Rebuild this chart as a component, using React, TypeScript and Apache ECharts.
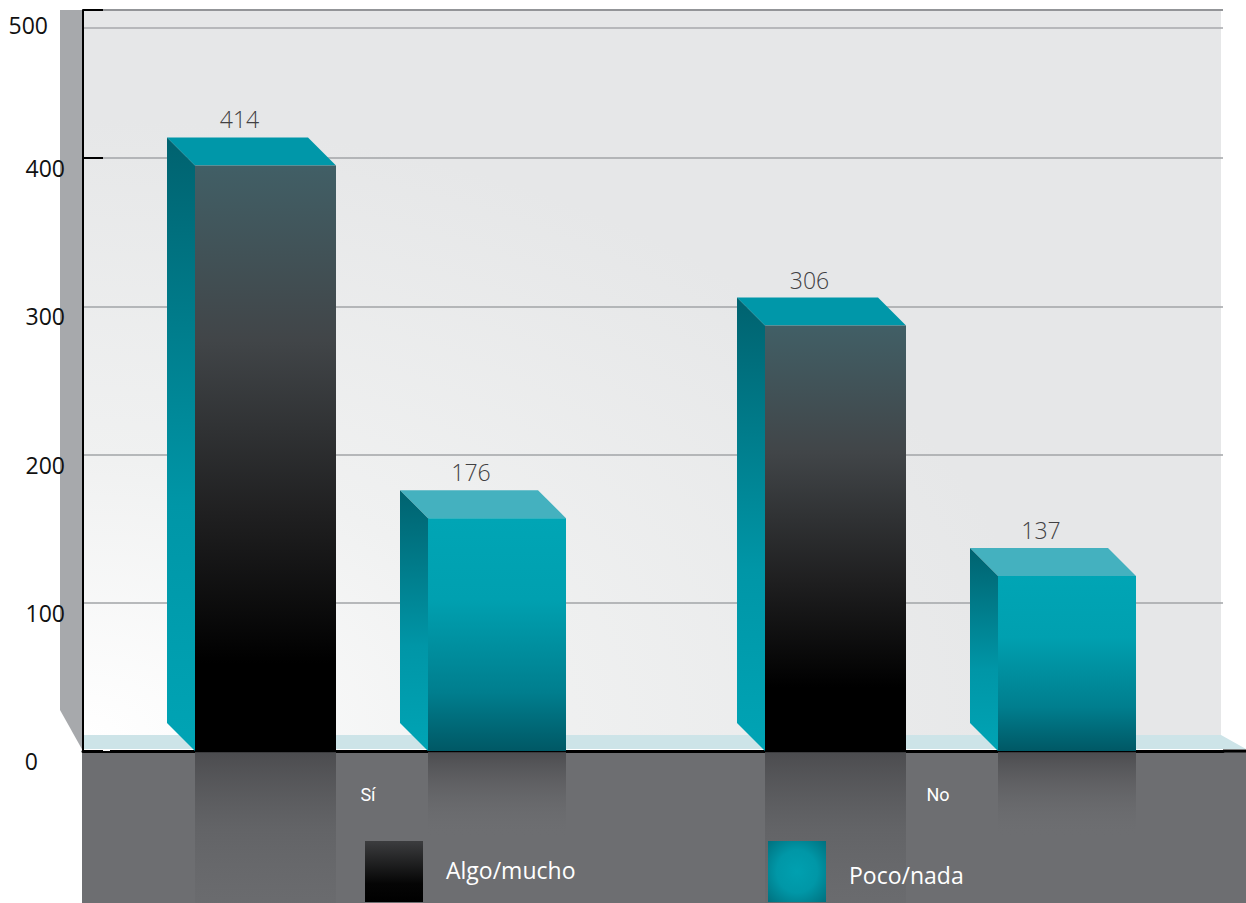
import React, { useEffect, useRef } from "react";
import * as echarts from "echarts";

const categories = ["Sí", "No"];
const algoMucho = [414, 306];
const pocoNada = [176, 137];
const yMax = 500;
const yStep = 100;

const linear = (stops: [number, string][]) => ({
  type: "linear", x: 0, y: 0, x2: 0, y2: 1,
  colorStops: stops.map(([offset, color]) => ({ offset, color })),
});

const DEPTH = 28;

function bar3d(left: number, right: number, topColor: string, sideStops: [number, string][], frontStops: [number, string][], reflectDepth: number, reflectStops: [number, string][]) {
  return (params: any, api: any) => {
    const [cx, yTop] = api.coord([api.value(0), api.value(1)]);
    const [, yBase] = api.coord([api.value(0), 0]);
    const fl = cx + left, fr = cx + right;
    const bl = fl - DEPTH, br = fr - DEPTH;
    const ft = yTop + DEPTH;
    return {
      type: "group",
      children: [
        { type: "rect", shape: { x: fl, y: yBase + 1, width: fr - fl, height: reflectDepth }, style: { fill: linear(reflectStops) } },
        { type: "polygon", shape: { points: [[bl, yTop], [br, yTop], [fr, ft], [fl, ft]] }, style: { fill: topColor } },
        { type: "polygon", shape: { points: [[bl, yTop], [fl, ft], [fl, yBase], [bl, yBase - DEPTH]] }, style: { fill: linear(sideStops) } },
        { type: "rect", shape: { x: fl, y: ft, width: fr - fl, height: yBase - ft }, style: { fill: linear(frontStops) } },
        { type: "text", style: { x: (bl + br) / 2 + 2, y: yTop - 18, text: String(api.value(1)), align: "center", verticalAlign: "middle", fill: "#414042", font: "300 23px 'Open Sans'" } },
      ],
    };
  };
}

export default function App() {
  const ref = useRef<HTMLDivElement>(null);
  useEffect(() => {
    const chart = echarts.init(ref.current!, undefined, { renderer: "svg" });
    const darkFront: [number, string][] = [[0, "#415f66"], [0.3, "#414548"], [0.6, "#1f1f20"], [0.85, "#000000"], [1, "#000000"]];
    const tealFront: [number, string][] = [[0, "#00a5b5"], [0.35, "#00a0b0"], [0.75, "#007e8e"], [1, "#005865"]];
    const side: [number, string][] = [[0, "#00626f"], [0.6, "#0096a7"], [1, "#00a4b5"]];
    const darkReflect: [number, string][] = [[0, "rgba(70,70,73,0.85)"], [0.5, "rgba(88,89,92,0.5)"], [1, "rgba(100,101,104,0.3)"]];
    const tealReflect: [number, string][] = [[0, "rgba(70,70,73,0.85)"], [1, "rgba(109,110,113,0)"]];
    chart.setOption({
      animation: false,
      grid: { left: 83, top: 10, width: 1140, height: 741, containLabel: false },
      legend: [
        {
          left: 360, top: 836, itemWidth: 58, itemHeight: 61,
          data: [{ name: "Algo/mucho", icon: "rect", itemStyle: { color: linear([[0, "#3c3d3f"], [0.7, "#050505"], [1, "#000000"]]) } }],
          formatter: (n: string) => `{t|${n}}`,
          textStyle: { rich: { t: { color: "#ffffff", fontFamily: "Open Sans", fontSize: 23, padding: [0, 0, 4, 18] } } },
        },
        {
          left: 763, top: 836, itemWidth: 58, itemHeight: 61,
          data: [{ name: "Poco/nada", icon: "rect", itemStyle: { color: { type: "radial", x: 0.5, y: 0.5, r: 0.7, colorStops: [{ offset: 0, color: "#00a0b0" }, { offset: 0.5, color: "#0097a7" }, { offset: 1, color: "#00717f" }] } } }],
          formatter: (n: string) => `{t|${n}}`,
          textStyle: { rich: { t: { color: "#ffffff", fontFamily: "Open Sans", fontSize: 23, padding: [6, 0, 0, 18] } } },
        },
      ],
      xAxis: {
        type: "category",
        data: categories,
        axisLine: { lineStyle: { color: "#000000", width: 3 } },
        axisTick: { show: false },
        axisLabel: { color: "#ffffff", margin: 34, fontSize: 18, fontFamily: "Roboto" },
        splitLine: { show: false },
      },
      yAxis: {
        type: "value",
        min: 0, max: yMax, interval: yStep,
        axisLine: { show: true, lineStyle: { color: "#000000", width: 2 } },
        axisTick: { show: false },
        splitLine: { show: true, lineStyle: { color: "#a2a4a7", width: 1.5 } },
        axisLabel: {
          margin: 18,
          formatter: (v: number) => v === 500 ? "{a|500}" : v === 0 ? "{z|0}" : `{n|${v}}`,
          rich: {
            a: { fontFamily: "Open Sans", fontSize: 23, color: "#111", padding: [30, 17, 0, 0] },
            n: { fontFamily: "Open Sans", fontSize: 23, color: "#111", padding: [20, 0, 0, 0] },
            z: { fontFamily: "Open Sans", fontSize: 23, color: "#111", padding: [20, 27, 0, 0] },
          },
        },
      },
      graphic: [
        { type: "polygon", z: -10, shape: { points: [[60, 10], [83, 10], [83, 751], [60, 710]] }, style: { fill: "#a7a9ac" } },
        { type: "rect", z: -10, shape: { x: 83, y: 10, width: 1138, height: 726 }, style: { fill: { type: "radial", x: 0, y: 1, r: 0.85, colorStops: [{ offset: 0, color: "#ffffff" }, { offset: 0.45, color: "#f0f1f1" }, { offset: 1, color: "#e6e7e8" }] } } },
        { type: "polygon", z: -9, shape: { points: [[83, 735], [1221, 735], [1246, 749], [83, 749]] }, style: { fill: "#cde4e8" } },
        { type: "rect", z: -9, shape: { x: 82, y: 751, width: 1164, height: 152 }, style: { fill: "#6d6e71" } },
        { type: "line", z: 1, shape: { x1: 83, y1: 10, x2: 1223, y2: 10 }, style: { stroke: "#939598", lineWidth: 2 } },
        { type: "line", z: -8, shape: { x1: 83, y1: 28, x2: 1223, y2: 28 }, style: { stroke: "#a7a9ac", lineWidth: 1.5 } },
        { type: "line", z: 5, shape: { x1: 1223, y1: 751, x2: 1246, y2: 751 }, style: { stroke: "#000000", lineWidth: 3 } },
        { type: "line", z: 5, shape: { x1: 83, y1: 10, x2: 103, y2: 10 }, style: { stroke: "#000000", lineWidth: 2 } },
        { type: "line", z: 5, shape: { x1: 83, y1: 158, x2: 103, y2: 158 }, style: { stroke: "#000000", lineWidth: 2 } },
        { type: "line", z: 5, shape: { x1: 103, y1: 750, x2: 110, y2: 750 }, style: { stroke: "#ffffff", lineWidth: 2 } },
      ],
      series: [
        {
          name: "Algo/mucho", type: "custom", coordinateSystem: "cartesian2d", clip: false,
          encode: { x: 0, y: 1 },
          data: algoMucho.map((v, i) => [i, v]),
          renderItem: bar3d(-173, -32, "#0097a9", side, darkFront, 151, darkReflect),
        },
        {
          name: "Poco/nada", type: "custom", coordinateSystem: "cartesian2d", clip: false,
          encode: { x: 0, y: 1 },
          data: pocoNada.map((v, i) => [i, v]),
          renderItem: bar3d(60, 198, "#44b1bf", side, tealFront, 85, tealReflect),
        },
      ],
    });
    return () => chart.dispose();
  }, []);
  return <div ref={ref} style={{ position: "fixed", left: 0, top: 0, width: 1246, height: 903, background: "#fff" }} />;
}
